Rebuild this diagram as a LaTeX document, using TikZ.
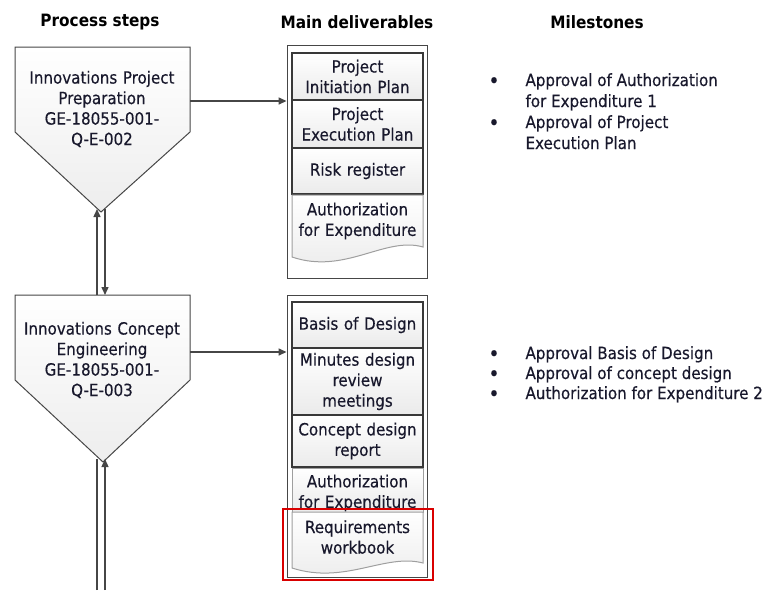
\documentclass[tikz,border=0pt]{standalone}
\usepackage{fontspec}
\setmainfont{DejaVu Sans Condensed}
\newfontfamily\bodyfont[FakeBold=0.35]{DejaVu Sans Condensed}
\usetikzlibrary{arrows.meta}
\definecolor{ink}{RGB}{24,24,44}
\definecolor{edge}{RGB}{70,70,70}
\tikzset{
  body/.style={font=\bodyfont\fontsize{16.8}{20.5}\selectfont, text=ink},
  head/.style={font=\fontsize{17}{20}\selectfont\bfseries, text=black},
  stepshape/.style={draw=edge, line width=1pt, top color=white, bottom color=gray!14},
  steptext/.style={body, align=center, text width=172pt},
  item/.style={body, draw=edge!80!black, line width=1.6pt, top color=white, bottom color=gray!16,
    minimum width=131pt, text width=131pt, align=center, inner sep=0pt},
  docshape/.style={draw=gray!75, line width=1pt, top color=white, bottom color=gray!16},
  doctext/.style={body, align=center, text width=131pt, inner sep=0pt},
  frame/.style={draw=edge, line width=0.9pt, inner sep=0pt},
  arr/.style={draw=edge, line width=1.4pt, -{Triangle[length=8pt,width=7pt]}},
  bul/.style={body, font=\bodyfont\fontsize{21}{20.5}\selectfont, anchor=base},
  mile/.style={body, anchor=base west, align=left}
}
\begin{document}
\begin{tikzpicture}[x=1pt,y=-1pt]
\useasboundingbox (0,0) rectangle (766,590);

% column headings
\node[head] (h1) at (100,22) {Process steps};
\node[head] (h2) at (357,22) {Main deliverables};
\node[head] (h3) at (597,22) {Milestones};

% process step 1
\path[stepshape] (15,47) -- (190,47) -- (190,132) -- (101,212) -- (15,132) -- cycle;
\node[steptext] (p1) at (102,109) {Innovations Project\\Preparation\\GE-18055-001-\\Q-E-002};
\coordinate (p1out) at (190,101);

% process step 2
\path[stepshape] (15,295) -- (190,295) -- (190,380) -- (103,462) -- (15,380) -- cycle;
\node[steptext] (p2) at (102,360) {Innovations Concept\\Engineering\\GE-18055-001-\\Q-E-003};
\coordinate (p2out) at (190,352);

% deliverables, step 1
\node[frame, minimum width=140pt, minimum height=233pt] (b1) at (357,161.5) {};
\node[item, minimum height=47pt] (i1) at (357.5,76.5) {Project\\Initiation Plan};
\node[item, minimum height=48pt] (i2) at (357.5,124) {Project\\Execution Plan};
\node[item, minimum height=46pt] (i3) at (357.5,171) {Risk register};
\path[docshape] (292,195) -- (423,195) -- (423,247)
  .. controls (385,236) and (345,275) .. (292,257) -- cycle;
\node[doctext] (d1) at (357.5,221) {Authorization\\for Expenditure};

% deliverables, step 2
\node[frame, minimum width=140pt, minimum height=282pt] (b2) at (357,436) {};
\node[item, minimum height=46pt] (j1) at (357.5,325) {Basis of Design};
\node[item, minimum height=67pt] (j2) at (357.5,381.5) {Minutes design\\review\\meetings};
\node[item, minimum height=52pt] (j3) at (357.5,441) {Concept design\\report};
\path[docshape] (292,468) -- (423,468) -- (423,512) -- (292,512) -- cycle;
\node[doctext] (d2) at (357.5,493) {Authorization\\for Expenditure};
\path[docshape] (292,512) -- (423,512) -- (423,563)
  .. controls (385,553) and (345,585) .. (292,568) -- cycle;
\node[doctext] (d3) at (357.5,537) {Requirements\\workbook};
\node[draw=red!85!black, line width=1.8pt, minimum width=150pt, minimum height=71pt, inner sep=0pt] (hl) at (358,544.5) {};

% flow between steps and deliverables
\draw[arr] (p1out) -- (p1out -| b1.west);
\draw[arr] (p2out) -- (p2out -| b2.west);

\coordinate (up1a) at (97,295);
\coordinate (up1b) at (97,209);
\coordinate (dn1a) at (105,209);
\coordinate (dn1b) at (105,295);
\draw[arr] (up1a) -- (up1b);
\draw[arr] (dn1a) -- (dn1b);

\coordinate (lo2a) at (97,590);
\coordinate (lo2b) at (97,459);
\coordinate (lo3a) at (105,590);
\coordinate (lo3b) at (105,459);
\draw[draw=edge, line width=1.4pt] (lo2a) -- (lo2b);
\draw[arr] (lo3a) -- (lo3b);

% milestones, step 1
\node[bul] (m1b) at (494,88) {•};
\node[mile] (m1) at (522,86) {Approval of Authorization};
\node[mile] (m1c) at (522,107) {for Expenditure 1};
\node[bul] (m2b) at (494,130) {•};
\node[mile] (m2) at (522,128) {Approval of Project};
\node[mile] (m2c) at (522,149) {Execution Plan};

% milestones, step 2
\node[bul] (m3b) at (494,361) {•};
\node[mile] (m3) at (522,359) {Approval Basis of Design};
\node[bul] (m4b) at (494,381) {•};
\node[mile] (m4) at (522,379) {Approval of concept design};
\node[bul] (m5b) at (494,401) {•};
\node[mile] (m5) at (522,399) {Authorization for Expenditure 2};
\end{tikzpicture}
\end{document}
